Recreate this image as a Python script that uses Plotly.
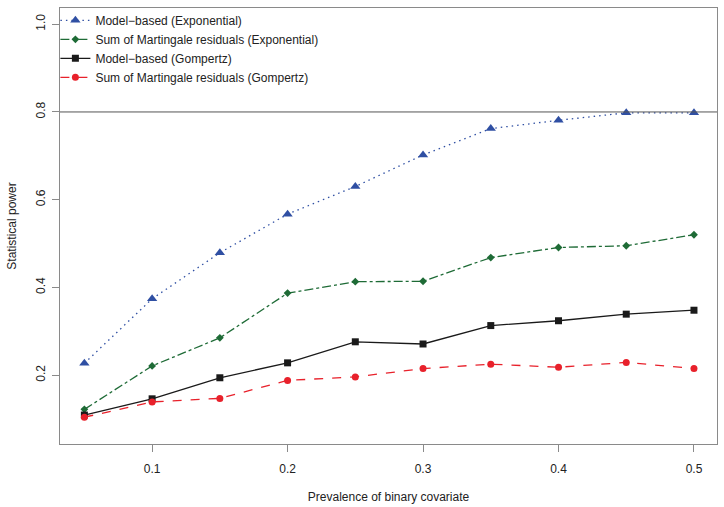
import plotly.graph_objects as go

prevalence = [0.05, 0.10, 0.15, 0.20, 0.25, 0.30, 0.35, 0.40, 0.45, 0.50]
model_exp = [0.227, 0.374, 0.479, 0.567, 0.630, 0.702, 0.762, 0.781, 0.798, 0.798]
mart_exp = [0.122, 0.221, 0.285, 0.387, 0.413, 0.414, 0.468, 0.491, 0.495, 0.520]
model_gomp = [0.109, 0.146, 0.194, 0.228, 0.276, 0.271, 0.313, 0.324, 0.339, 0.348]
mart_gomp = [0.104, 0.139, 0.147, 0.188, 0.196, 0.215, 0.225, 0.218, 0.229, 0.215]
x_ticks = [0.1, 0.2, 0.3, 0.4, 0.5]
y_ticks = [0.2, 0.4, 0.6, 0.8, 1.0]
ref_power = 0.8

FONT = "Liberation Sans, Arial, Helvetica, sans-serif"

series = [
    ("Model\u2212based (Exponential)", model_exp, "#2F4FA3", "1.5px,4px", "triangle-up", 9),
    ("Sum of Martingale residuals (Exponential)", mart_exp, "#1E6B36", "dashdot", "diamond", 6),
    ("Model\u2212based (Gompertz)", model_gomp, "#1A1A1A", "solid", "square", 7),
    ("Sum of Martingale residuals (Gompertz)", mart_gomp, "#E8212B", "dash", "circle", 7),
]

fig = go.Figure()
for name, vals, color, dash, sym, size in series:
    fig.add_trace(go.Scatter(
        x=prevalence, y=vals, name=name, mode="lines+markers",
        line=dict(color=color, dash=dash, width=1.3),
        marker=dict(symbol=sym, size=size, color=color, line=dict(width=0)),
    ))

fig.add_hline(y=ref_power, line=dict(color="#555555", width=1))

axis_common = dict(
    showgrid=False, zeroline=False, showline=True, mirror=True,
    linecolor="#8a8a8a", linewidth=1, ticks="outside", ticklen=7,
    tickcolor="#8a8a8a", tickfont=dict(family=FONT, size=12, color="#222222"),
    automargin=False,
)

fig.update_layout(
    width=724, height=507,
    margin=dict(l=60, r=7, t=6, b=63),
    paper_bgcolor="white", plot_bgcolor="white",
    font=dict(family=FONT, size=12, color="#222222"),
    xaxis=dict(
        range=[0.032, 0.517], tickvals=x_ticks, ticktext=[str(v) for v in x_ticks],
        ticklabelstandoff=7,
        title=dict(text="Prevalence of binary covariate", font=dict(family=FONT, size=12), standoff=17),
        **axis_common,
    ),
    yaxis=dict(
        range=[0.043, 1.037], tickvals=y_ticks, ticktext=[f"{v:.1f}" for v in y_ticks],
        tickangle=-90, ticklabelstandoff=2,
        title=dict(text="Statistical power", font=dict(family=FONT, size=12), standoff=15),
        **axis_common,
    ),
    legend=dict(
        x=-0.007, y=1.005, xanchor="left", yanchor="top",
        bgcolor="rgba(0,0,0,0)", borderwidth=0,
        font=dict(family=FONT, size=12, color="#222222"),
        itemwidth=30, tracegroupgap=0,
    ),
    showlegend=True,
)

fig.write_html(
    "out.html",
    config={"displayModeBar": False},
    post_script="document.body.style.margin='0';document.body.style.overflow='hidden';",
)
